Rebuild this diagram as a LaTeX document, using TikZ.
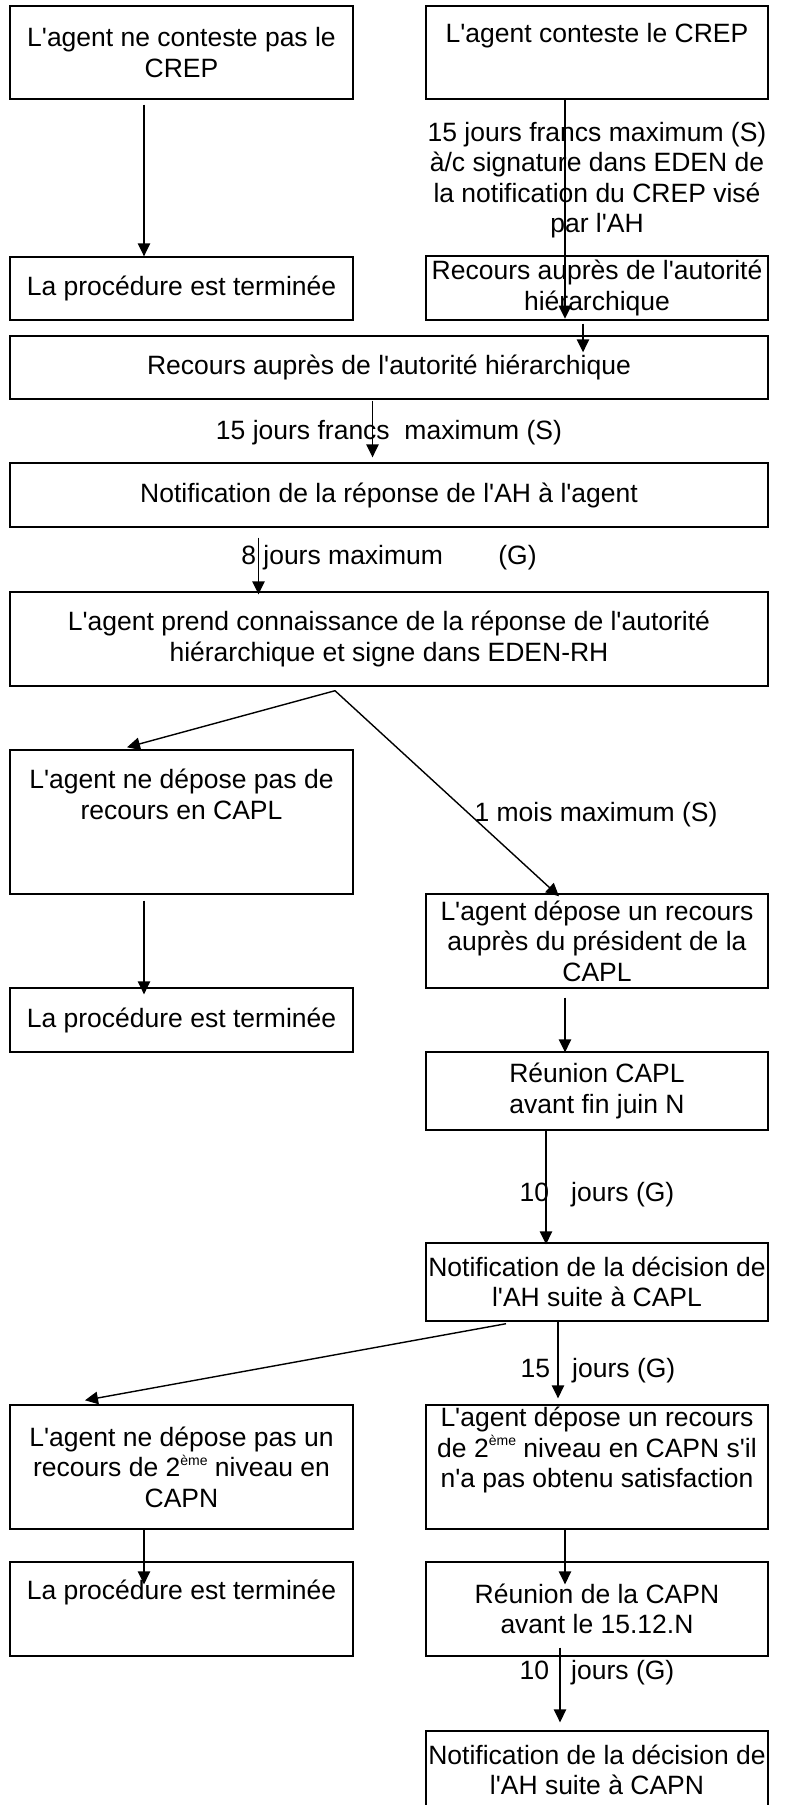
\documentclass[tikz,border=0pt]{standalone}
\usepackage{fontspec}
\setmainfont{Liberation Sans}[Ligatures=TeXOff]
\usetikzlibrary{calc,arrows.meta}
\newcommand\eme{\raisebox{0.8ex}{\fontsize{7}{7}\selectfont ème}}
\tikzset{
	txt/.style={font=\fontsize{13.25}{15.2}\selectfont, align=center, inner sep=0pt},
	box/.style={txt, draw, line width=0.7pt},
	lcol/.style={box, minimum width=171.5pt},
	rcol/.style={box, minimum width=171pt},
	wcol/.style={box, minimum width=379pt},
	arr/.style={line width=0.7pt, -{Triangle[length=6.5pt,width=6.25pt]}}
}

\begin{document}
\begin{tikzpicture}[x=0.5pt,y=-0.5pt]
		%%%%% START %%%%%
		\useasboundingbox (0,0) rectangle (786,1805);
		
		\node[lcol, minimum height=46.5pt] (nonconteste) at (181.5,52.5) {L'agent ne conteste pas le\\CREP};
		\node[rcol, minimum height=46.5pt] (conteste) at (597,52.5) {L'agent conteste le CREP\\\strut};
		
		\node[lcol, minimum height=31.5pt] (fin1) at (181.5,288.5) {La procédure est terminée};
		\node[rcol, minimum height=32pt] (recours1) at (597,288) {Recours auprès de l'autorité\\hiérarchique};
		\node[txt] (delai1) at (597,180) {15 jours francs maximum (S)\\à/c signature dans EDEN de\\la notification du CREP visé\\par l'AH};
		
		\node[wcol, minimum height=31.5pt] (recours) at (389,367.5) {Recours auprès de l'autorité hiérarchique};
		\node[txt] (delai2) at (389,433) {15 jours francs\ \ maximum (S)};
		\node[wcol, minimum height=32pt] (notif) at (389,495) {Notification de la réponse de l'AH à l'agent};
		\node[txt] (delai3) at (389,558) {8 jours maximum\hspace{24pt} (G)};
		\node[wcol, minimum height=47pt] (prise) at (389,639) {L'agent prend connaissance de la réponse de l'autorité\\hiérarchique et signe dans EDEN-RH};
		
		\node[lcol, minimum height=72pt] (pasCAPL) at (181.5,822) {L'agent ne dépose pas de\\recours en CAPL\\[8pt]\strut};
		\node[txt] (delai4) at (596,815) {1 mois maximum (S)};
		\node[rcol, minimum height=47pt] (capl) at (597,941) {L'agent dépose un recours\\auprès du président de la\\CAPL};
		\node[lcol, minimum height=32pt] (fin2) at (181.5,1020) {La procédure est terminée};
		\node[rcol, minimum height=39pt] (reunionCAPL) at (597,1091) {Réunion CAPL\\avant fin juin N};
		\node[txt] (delai5) at (597,1195) {10\ \ \ jours (G)};
		\node[rcol, minimum height=39pt] (notifCAPL) at (597,1282) {Notification de la décision de\\l'AH suite à CAPL};
		\node[txt] (delai6) at (598,1371) {15\ \ \ jours (G)};
		
		\node[lcol, minimum height=62pt] (pasCAPN) at (181.5,1467) {L'agent ne dépose pas un\\recours de 2\eme\ niveau en\\CAPN};
		\node[rcol, minimum height=62pt] (capn) at (597,1467) {L'agent dépose un recours\\de 2\eme\ niveau en CAPN s'il\\n'a pas obtenu satisfaction\\\strut};
		\node[lcol, minimum height=47pt] (fin3) at (181.5,1609) {La procédure est terminée\\\strut};
		\node[rcol, minimum height=47pt] (reunionCAPN) at (597,1609) {Réunion de la CAPN\\avant le 15.12.N};
		\node[txt] (delai7) at (597,1673) {10\ \ \ jours (G)};
		\node[rcol, minimum height=39pt] (notifCAPN) at (597,1770) {Notification de la décision de\\l'AH suite à CAPN};
		
		\coordinate (fourche) at ($(prise.south)+(-54,4)$);
		
		\draw[arr] ($(nonconteste.south)+(-37.5,5)$) -- ($(fin1.north)+(-37.5,0)$);
		\draw[arr] ($(conteste.south)+(-32,0)$) -- ($(recours1.south)+(-32,-2)$);
		\draw[arr] ($(recours1.south)+(-14,3)$) -- ($(recours.north)+(194,17)$);
		\draw[arr] ($(recours.south)+(-16.5,1)$) -- ($(notif.north)+(-16.5,-5)$);
		\draw[arr] ($(notif.south)+(-130.5,10)$) -- ($(prise.north)+(-130.5,3)$);
		\draw[arr] (fourche) -- ($(pasCAPL.north)+(-54.5,-2)$);
		\draw[arr] (fourche) -- ($(capl.north)+(-38,3)$);
		\draw[arr] ($(pasCAPL.south)+(-37.5,6)$) -- ($(fin2.north)+(-37.5,7)$);
		\draw[arr] ($(capl.south)+(-32,9)$) -- ($(reunionCAPL.north)+(-32,1)$);
		\draw[arr] ($(reunionCAPL.south)+(-51,0)$) -- ($(notifCAPL.north)+(-51,2)$);
		\draw[arr] ($(notifCAPL.south)+(-91,2)$) -- ($(pasCAPN.north)+(-96.5,-4)$);
		\draw[arr] ($(notifCAPL.south)+(-39,0)$) -- ($(capn.north)+(-39,-6)$);
		\draw[arr] ($(pasCAPN.south)+(-37.5,-1)$) -- ($(fin3.north)+(-37.5,23)$);
		\draw[arr] ($(capn.south)+(-32,-1)$) -- ($(reunionCAPN.north)+(-32,23)$);
		\draw[arr] ($(reunionCAPN.south)+(-37,-9)$) -- ($(notifCAPN.north)+(-37,-8)$);
		
		%%%%% END %%%%%
	\end{tikzpicture}
\end{document}
